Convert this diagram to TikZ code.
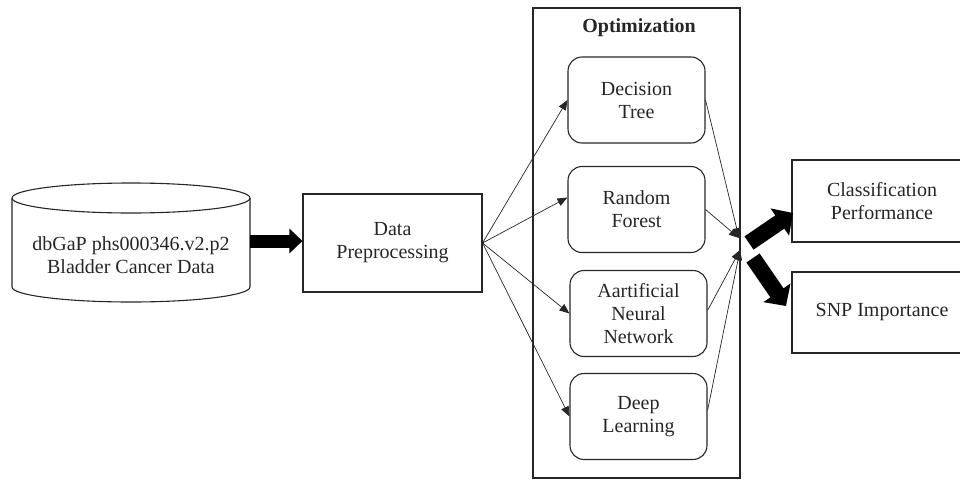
\documentclass[tikz,border=0pt]{standalone}
\usepackage{fontspec}
\setmainfont{Liberation Serif}
\usetikzlibrary{positioning,arrows.meta}

\begin{document}
\begin{tikzpicture}[x=1pt,y=-1pt,
    txt/.style={align=center, font=\fontsize{20}{23}\selectfont, text=black!85, inner sep=0pt},
    box/.style={txt, rectangle, draw=black!85, line width=1.1pt},
    model/.style={box, rounded corners=14pt, minimum width=137pt, minimum height=86pt},
    thin/.style={draw=black!85, line width=0.7pt, -{Triangle[length=10pt,width=8pt]}},
    fat/.style={draw=black, line width=16pt, -{Triangle[length=16pt,width=32pt]}}]
  \useasboundingbox (0,0) rectangle (960,479);

  % database cylinder
  \draw[black!85, line width=1.1pt] (131,198) ellipse [x radius=119pt, y radius=15pt];
  \draw[black!85, line width=1.1pt] (12,198) -- (12,287)
    arc[start angle=180, end angle=360, x radius=119pt, y radius=15pt] -- (250,198);
  \node[txt] (db) at (131,255) {dbGaP phs000346.v2.p2\\Bladder Cancer Data};
  \coordinate (dbout) at (250,241);

  \node[box, minimum width=179pt, minimum height=98pt] (pre) at (392.5,243) {Data\\Preprocessing};

  % optimization frame
  \node[box, minimum width=207pt, minimum height=470pt] (opt) at (636.5,243) {};
  \node[txt, font=\fontsize{20}{23}\selectfont\bfseries] (opttitle) at (639,28) {Optimization};
  \node[model] (dt) at (636.5,100) {Decision\\Tree};
  \node[model] (rf) at (636.5,209.5) {Random\\Forest};
  \node[model] (ann) at (638.5,313.5) {Aartificial\\Neural\\Network};
  \node[model] (dl) at (638.5,416.5) {Deep\\Learning};

  % results
  \node[box, minimum width=180pt, minimum height=82pt] (cp) at (882,201) {Classification\\Performance};
  \node[box, minimum width=180pt, minimum height=81pt] (snp) at (882,312.5) {SNP Importance};

  \coordinate (m1) at (739,238);
  \coordinate (m2) at (740,250);
  \coordinate (o1) at (749,243);
  \coordinate (o2) at (753,258);

  % connectors
  \draw[fat, line width=13pt, -{Triangle[length=13pt,width=24pt]}] (dbout) -- (dbout -| pre.west);
  \draw[thin] (pre.east) -- (dt.west);
  \draw[thin] (pre.east) -- ([yshift=12pt]rf.west);
  \draw[thin] (pre.east) -- (ann.west);
  \draw[thin] (pre.east) -- (dl.west);
  \draw[thin] (dt.east) -- (m1);
  \draw[thin] (rf.east) -- (m1);
  \draw[thin] ([yshift=3pt]ann.east) -- (m2);
  \draw[thin] ([yshift=6pt]dl.east) -- (m2);
  \draw[fat] (o1) -- (793,213);
  \draw[fat] (o2) -- (786,306);
\end{tikzpicture}
\end{document}
